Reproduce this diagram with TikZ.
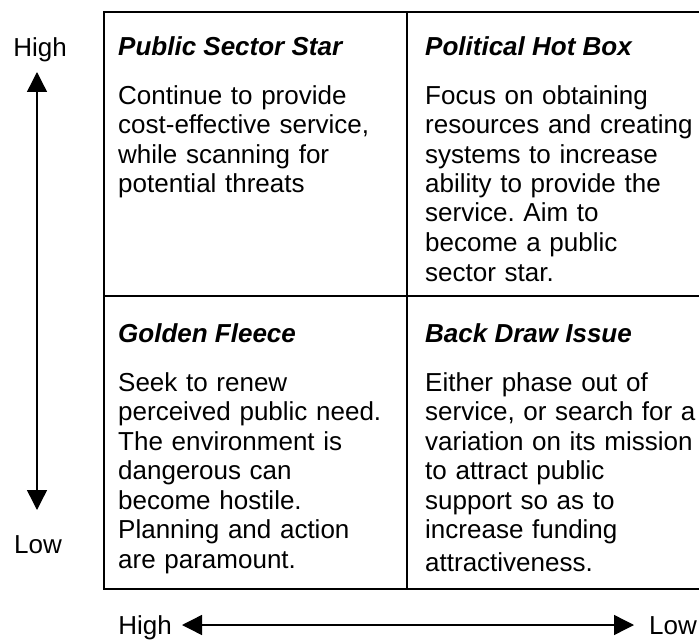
\documentclass[tikz,border=0pt]{standalone}
\usepackage{fontspec}
\setmainfont{Liberation Sans}
\usetikzlibrary{arrows.meta}
\frenchspacing
\tikzset{
  grid/.style={line width=2.2pt},
  axis2/.style={line width=1.4pt, {Triangle[length=20pt,width=20pt]}-{Triangle[length=20pt,width=20pt]}},
  title/.style={anchor=base west, inner sep=0pt, font=\fontsize{26}{29.5}\selectfont\bfseries\itshape},
  body/.style={anchor=base west, inner sep=0pt, align=left, text width=285pt, font=\fontsize{26}{29.5}\selectfont},
  lbl/.style={anchor=base, inner sep=0pt, font=\fontsize{26}{29.5}\selectfont},
}
\begin{document}
\begin{tikzpicture}[x=1pt,y=-1pt]
\useasboundingbox (0,0) rectangle (699,642);
% grid
\coordinate (tl) at (104,12);
\coordinate (tr) at (699,12);
\coordinate (ml) at (104,296);
\coordinate (mr) at (699,296);
\coordinate (bl) at (104,589);
\coordinate (br) at (699,589);
\coordinate (mt) at (407,12);
\coordinate (mb) at (407,589);
\draw[grid] (tr) -- (tl) -- (bl) -- (br);
\draw[grid] (ml) -- (mr);
\draw[grid] (mt) -- (mb);
% cells
\node[title] (t1) at (118,56) {Public Sector Star};
\node[body] (b1) at (118,104) {Continue to provide\\cost-effective service,\\while scanning for\\potential threats};
\node[title] (t2) at (425,56) {Political Hot Box};
\node[body] (b2) at (425,104) {Focus on obtaining\\resources and creating\\systems to increase\\ability to provide the\\service. Aim to\\become a public\\sector star.};
\node[title] (t3) at (118,342) {Golden Fleece};
\node[body] (b3) at (118,391) {Seek to renew\\perceived public need.\\The environment is\\dangerous can\\become hostile.\\Planning and action\\are paramount.};
\node[title] (t4) at (425,342) {Back Draw Issue};
\node[body] (b4) at (425,391) {Either phase out of\\service, or search for a\\variation on its mission\\to attract public\\support so as to\\increase funding\\[3pt]attractiveness.};
% axes
\node[lbl] (vh) at (40,57) {High};
\node[lbl] (vl) at (38,553) {Low};
\coordinate (vt) at (37,72);
\coordinate (vb) at (37,510);
\draw[axis2] (vb) -- (vt);
\node[lbl] (hh) at (145,634) {High};
\node[lbl] (hl) at (673,634) {Low};
\coordinate (hlft) at (182,625);
\coordinate (hrt) at (634,625);
\draw[axis2] (hlft) -- (hrt);
\end{tikzpicture}
\end{document}
